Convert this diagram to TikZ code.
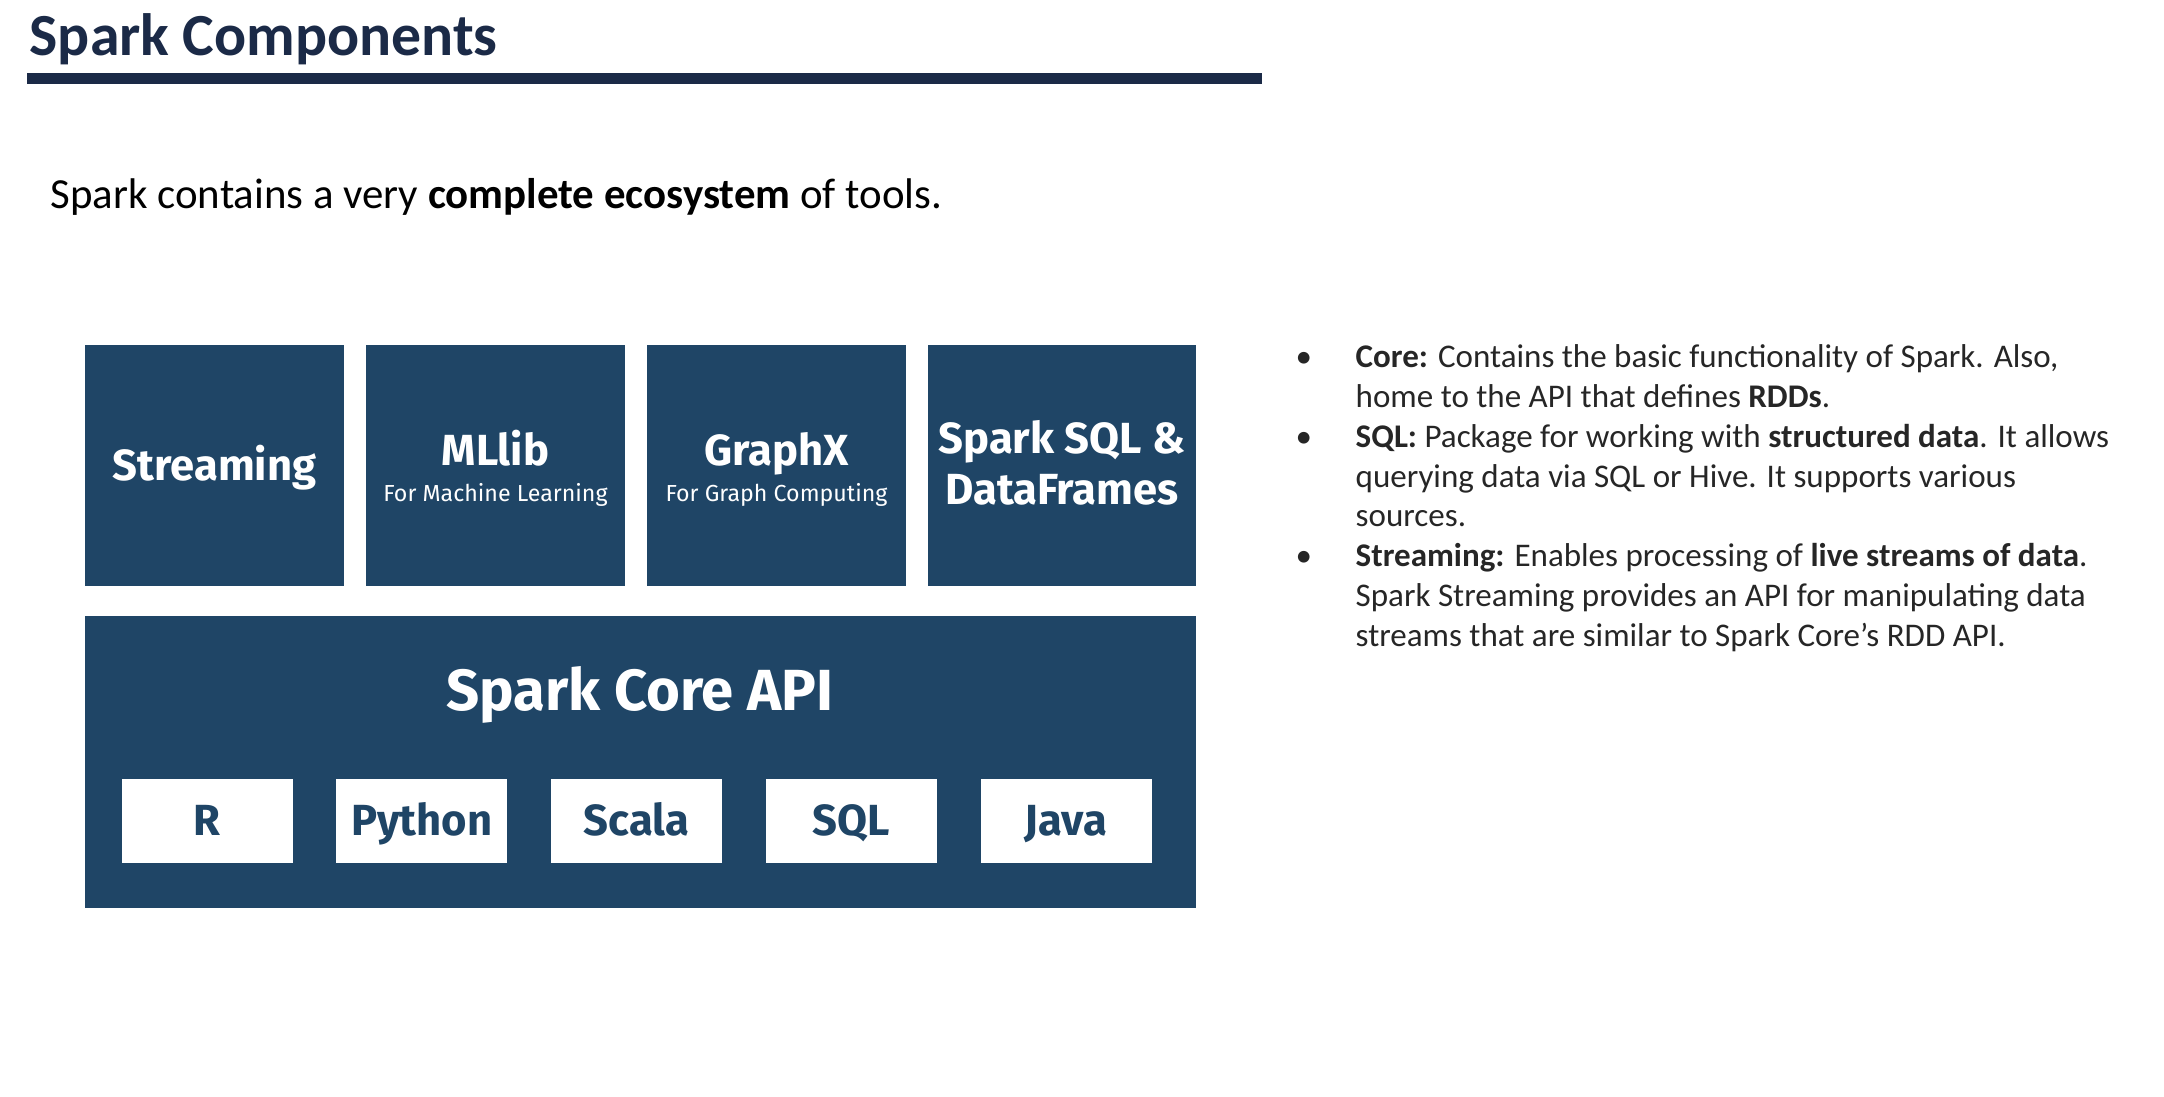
\documentclass[tikz,border=0pt]{standalone}
\usepackage{fontspec}
\setmainfont{Carlito}
\newfontfamily\boxfont{Fira Sans}

\definecolor{boxnavy}{HTML}{1F4566}
\definecolor{titlenavy}{HTML}{1B2A47}
\definecolor{bodygray}{HTML}{262626}

\tikzstyle{darkbox} = [fill=boxnavy, draw=none, inner sep=0, minimum height=2.41cm]
\tikzstyle{lightbox} = [fill=white, draw=none, inner sep=0, minimum width=1.71cm, minimum height=0.84cm]
\tikzstyle{boxlabel} = [text=white, inner sep=0, anchor=base, font=\boxfont\bfseries\fontsize{12.4}{14}\selectfont]
\tikzstyle{sublabel} = [text=white, inner sep=0, anchor=base, font=\boxfont\fontsize{6.6}{8}\selectfont]
\tikzstyle{langlabel} = [text=boxnavy, inner sep=0, anchor=base, font=\boxfont\bfseries\fontsize{12.4}{14}\selectfont]

\begin{document}
\begin{tikzpicture}[x=1cm,y=-1cm]
\useasboundingbox (0,0) rectangle (21.64,10.96);

%HEADER
\node[anchor=base west, inner sep=0, text=titlenavy, font=\bfseries\fontsize{17}{20}\selectfont] (title) at (0.29,0.55) {Spark Components};
\fill[titlenavy] (0.27,0.73) rectangle (12.62,0.84);
\node[anchor=base west, inner sep=0, font=\fontsize{12.2}{14}\selectfont] (intro) at (0.50,2.08) {Spark contains a very \textbf{complete ecosystem} of tools.};

%LIBRARIES
\node[darkbox, minimum width=2.59cm] (stream) at (2.145,4.655) {};
\node[boxlabel] (streamt) at (2.145,4.80) {Streaming};

\node[darkbox, minimum width=2.59cm] (mllib) at (4.955,4.655) {};
\node[boxlabel] (mllibt) at (4.955,4.65) {MLlib};
\node[sublabel] (mllibs) at (4.955,5.01) {For Machine Learning};

\node[darkbox, minimum width=2.59cm] (graphx) at (7.765,4.655) {};
\node[boxlabel] (graphxt) at (7.765,4.65) {GraphX};
\node[sublabel] (graphxs) at (7.765,5.01) {For Graph Computing};

\node[darkbox, minimum width=2.68cm] (sparksql) at (10.62,4.655) {};
\node[boxlabel] (sparksqlt) at (10.62,4.53) {Spark SQL \&};
\node[boxlabel] (sparksqls) at (10.62,5.04) {DataFrames};

% CORE
\node[darkbox, minimum width=11.11cm, minimum height=2.92cm] (core) at (6.405,7.62) {};
\node[boxlabel, font=\boxfont\bfseries\fontsize{16.5}{19}\selectfont] (coret) at (6.40,7.10) {Spark Core API};

\foreach \lang [count=\i] in {R,Python,Scala,SQL,Java} {
  \node[lightbox] (lang\i) at ({2.07+(\i-1)*2.1475},8.21) {};
  \node[langlabel] (lbl\i) at ({2.07+(\i-1)*2.1475},8.35) {\lang};
}

% NOTES
\node[anchor=base west, inner sep=0, text=bodygray, font=\fontsize{9.4}{11.38}\selectfont] (notes) at (12.95,3.67) {%
\renewcommand{\arraystretch}{1}%
\begin{tabular}[t]{@{}p{0.6cm}@{}l@{}}
\textbullet & \textbf{Core:} Contains the basic functionality of Spark. Also,\\
 & home to the API that defines \textbf{RDDs}.\\
\textbullet & \textbf{SQL:} Package for working with \textbf{structured data}. It allows\\
 & querying data via SQL or Hive. It supports various\\
 & sources.\\
\textbullet & \textbf{Streaming:} Enables processing of \textbf{live streams of data}.\\
 & Spark Streaming provides an API for manipulating data\\
 & streams that are similar to Spark Core’s RDD API.
\end{tabular}};

\end{tikzpicture}
\end{document}
